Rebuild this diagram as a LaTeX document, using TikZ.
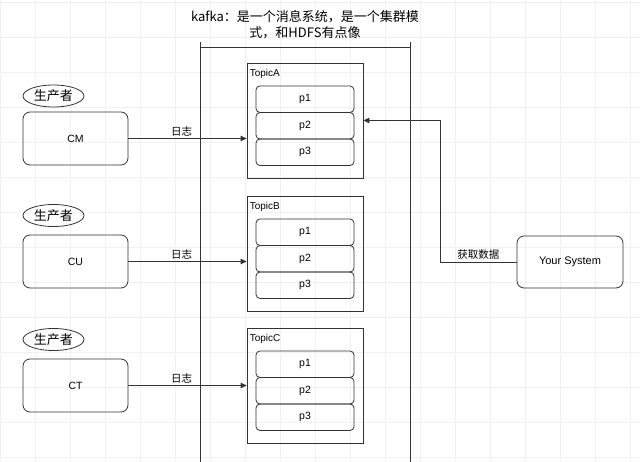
\documentclass[tikz,border=0pt]{standalone}
\usepackage{fontspec}
\setmainfont{Liberation Sans}
\newfontfamily\cjk{Noto Sans CJK SC}
\usepackage{tikz}
\usetikzlibrary{arrows.meta, shapes.geometric}

\begin{document}
\begin{tikzpicture}[x=1pt, y=-1pt,
  gridline/.style={color=gray!11, line width=0.6pt},
  wire/.style={draw=black!80, line width=0.8pt},
  arr/.style={wire, -{Triangle[length=6pt, width=5.5pt]}},
  prod/.style={wire, ellipse, minimum width=61pt, minimum height=22pt, inner sep=0pt, font=\cjk\fontsize{13}{15}\selectfont},
  srcbox/.style={wire, rounded corners=7pt, minimum width=105pt, minimum height=53pt, font=\fontsize{10.5}{12}\selectfont},
  topicbox/.style={wire, minimum width=116pt, minimum height=115pt},
  part/.style={wire, rounded corners=4pt, minimum width=98pt, minimum height=26.5pt, font=\fontsize{10.5}{12}\selectfont},
  lbl/.style={font=\cjk\fontsize{10.5}{12}\selectfont, inner sep=2pt}]
\useasboundingbox (0,0) rectangle (640,462);
\fill[white] (0,0) rectangle (640,462);
\foreach \gx in {0,35,...,630} \draw[gridline] (\gx,0) -- (\gx,462);
\foreach \gy in {2,37,...,457} \draw[gridline] (0,\gy) -- (640,\gy);

\node[align=center, font=\cjk\fontsize{13}{16}\selectfont] (title) at (305,25) {kafka：是一个消息系统，是一个集群模\\式，和HDFS有点像};
\draw[wire] (200,42) -- (200,462);
\draw[wire] (410,42) -- (410,462);
\draw[wire] (200,47) -- (410,47);

\foreach \t/\cy in {A/120.5, B/253.5, C/385.5} {
  \node[topicbox] (T\t) at (305,\cy) {};
  \node[anchor=north west, inner sep=0pt, font=\fontsize{10}{12}\selectfont] (T\t lbl) at ([xshift=3pt, yshift=-6pt]T\t.north west) {Topic\t};
  \foreach \p/\dy in {1/-21.25, 2/5.25, 3/31.75}
    \node[part] (T\t p\p) at (305,\cy+\dy) {p\p};
}

\foreach \s/\py/\by/\t in {CM/96/138.5/A, CU/215.5/261.5/B, CT/339.5/385.5/C} {
  \node[prod] (P\s) at (53.5,\py) {生产者};
  \node[srcbox] (\s) at (75.5,\by) {\s};
  \draw[arr] (\s.east) -- (\s.east -| T\t.west) node[lbl, above, pos=0.45] {日志};
}

\node[srcbox, minimum width=106pt, minimum height=52pt, font=\fontsize{11}{13}\selectfont] (ys) at (570,262) {Your System};
\coordinate (bend) at (440,262);
\draw[arr] (ys.west) -- node[lbl, above] {获取数据} (bend) |- (TA.east);
\end{tikzpicture}
\end{document}
